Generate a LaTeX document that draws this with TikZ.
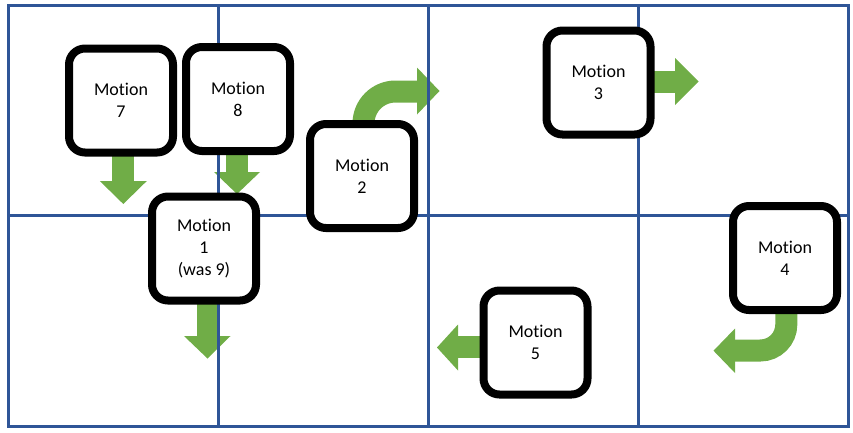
\documentclass[tikz,border=0pt]{standalone}
\usepackage{fontspec}
\setmainfont{Carlito}[Ligatures=NoCommon]
\definecolor{gridblue}{HTML}{2F5597}
\definecolor{arrgreen}{HTML}{70AD47}
\tikzset{
  motionbox/.style={draw=black, line width=8pt, rounded corners=16pt, fill=white,
    minimum width=104pt, minimum height=104pt, inner sep=0pt, align=center,
    font=\fontsize{18}{22}\selectfont},
  gridline/.style={draw=gridblue, line width=2.6pt},
  shaft/.style={draw=arrgreen, line width=22pt, line cap=butt},
  head/.style={fill=arrgreen, draw=none}
}
\begin{document}
\begin{tikzpicture}[x=1pt,y=-1pt]
\useasboundingbox (0,0) rectangle (853,432);
% ---- arrows (under grid and boxes)
% below Motion 7
\draw[shaft] (123.3,140) -- (123.3,182);
\fill[head] (99.8,181) -- (146.8,181) -- (123.3,204) -- cycle;
% below Motion 8
\draw[shaft] (237,140) -- (237,173);
\fill[head] (214,172) -- (260,172) -- (237,194) -- cycle;
% below Motion 1
\draw[shaft] (207.5,290) -- (207.5,337);
\fill[head] (184,336) -- (230.5,336) -- (207.5,358.5) -- cycle;
% right of Motion 3
\draw[shaft] (640,81.5) -- (676,81.5);
\fill[head] (675,58) -- (675,105) -- (698.5,81.5) -- cycle;
% left of Motion 5
\draw[shaft] (495,347) -- (457,347);
\fill[head] (458,324.5) -- (458,370.5) -- (437,347.5) -- cycle;
% curved arrow above Motion 2
\draw[shaft, rounded corners=32pt] (363.5,140) -- (363.5,91.5) -- (418,91.5);
\fill[head] (417,67.5) -- (417,114.5) -- (439.5,91) -- cycle;
% curved arrow below Motion 4
\draw[shaft, rounded corners=26pt] (786.3,300) -- (786.3,350.5) -- (734,350.5);
\fill[head] (735,328.5) -- (735,373) -- (713.5,350.7) -- cycle;
% ---- grid
\draw[gridline] (8.5,5.5) rectangle (848.5,426.5);
\draw[gridline] (218.5,5.5) -- (218.5,426.5);
\draw[gridline] (428.5,5.5) -- (428.5,426.5);
\draw[gridline] (638.5,5.5) -- (638.5,426.5);
\draw[gridline] (8.5,215.5) -- (848.5,215.5);
% ---- boxes
\node[motionbox] (m7) at (121,100.5) {Motion\\7};
\node[motionbox] (m8) at (238,99) {Motion\\8};
\node[motionbox] (m2) at (362,176) {Motion\\2};
\node[motionbox] (m3) at (598.5,82.5) {Motion\\3};
\node[motionbox] (m1) at (204,248.5) {Motion\\1\\(was 9)};
\node[motionbox] (m4) at (785,258) {Motion\\4};
\node[motionbox] (m5) at (535.5,342.5) {Motion\\5};
\end{tikzpicture}
\end{document}
